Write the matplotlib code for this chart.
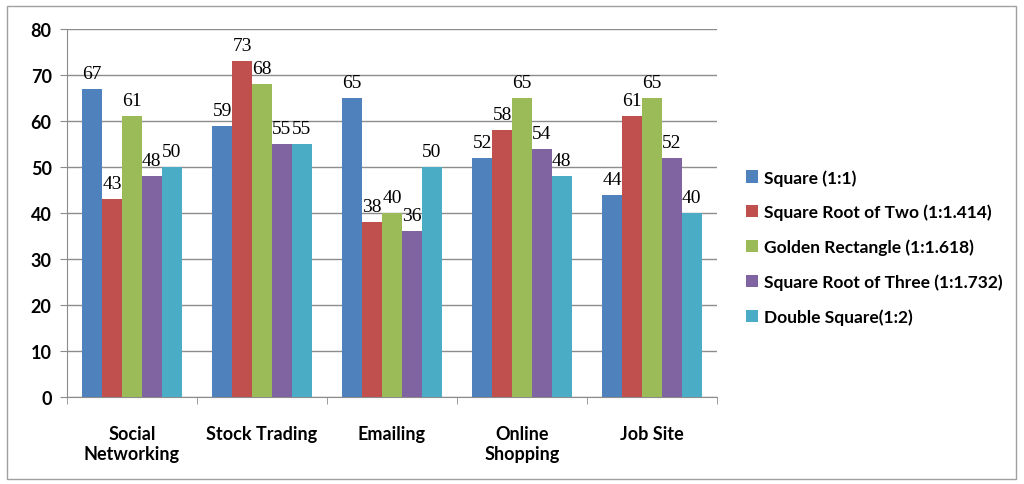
import numpy as np
import matplotlib.pyplot as plt
from matplotlib.patches import Rectangle

categories = ["Social\nNetworking", "Stock Trading", "Emailing", "Online\nShopping", "Job Site"]
series_names = ["Square (1:1)", "Square Root of Two (1:1.414)", "Golden Rectangle (1:1.618)",
                "Square Root of Three (1:1.732)", "Double Square(1:2)"]
square = [67, 59, 65, 52, 44]
root_two = [43, 73, 38, 58, 61]
golden = [61, 68, 40, 65, 65]
root_three = [48, 55, 36, 54, 52]
double_square = [50, 55, 50, 48, 40]
yticks = [0, 10, 20, 30, 40, 50, 60, 70, 80]

COLORS = ["#4F81BD", "#C0504D", "#9BBB59", "#8064A2", "#4BACC6"]
GRID = "#8C8C8C"

fig = plt.figure(figsize=(10.24, 4.85), dpi=100)
ax = fig.add_axes([0.0654, 0.1794, 0.6348, 0.7588])

# outer chart frame
fig.patches.append(Rectangle((0.007, 0.01), 0.985, 0.975, transform=fig.transFigure,
                             fill=False, edgecolor="#A0A0A0", lw=1.0))

series = [square, root_two, golden, root_three, double_square]
n = len(series)
x = np.arange(len(categories))
bw = 1.0 / (n + 1.55)

for i, (vals, name, col) in enumerate(zip(series, series_names, COLORS)):
    pos = x + (i - (n - 1) / 2) * bw
    bars = ax.bar(pos, vals, width=bw, color=col, label=name, zorder=3)
    for b, v in zip(bars, vals):
        ax.annotate(f"{v}", (b.get_x() + b.get_width() / 2, v), xytext=(0, 5),
                    textcoords="offset points", ha="center", va="bottom",
                    fontsize=14, family="Liberation Serif", color="black")

ax.set_xlim(-0.5, len(categories) - 0.5)
ax.set_ylim(0, 80)
ax.set_yticks(yticks)
ax.set_yticklabels([str(t) for t in yticks], fontsize=13, fontweight="bold",
                   family="Lato")
ax.yaxis.grid(True, color=GRID, lw=1.0, zorder=0)
ax.set_axisbelow(True)

# category labels in the centre, tick marks on the boundaries
ax.set_xticks(x)
ax.set_xticklabels(categories, fontsize=13, fontweight="bold", family="Lato",
                   linespacing=1.25)
ax.tick_params(axis="x", length=0, pad=20)
ax.set_xticks(np.arange(len(categories) + 1) - 0.5, minor=True)
ax.tick_params(axis="x", which="minor", length=5, color=GRID, direction="out")
ax.tick_params(axis="y", length=5, color=GRID, direction="out", pad=6)

for s in ["top", "right"]:
    ax.spines[s].set_visible(False)
for s in ["left", "bottom"]:
    ax.spines[s].set_color(GRID)

leg = fig.legend(loc="center left", bbox_to_anchor=(0.713, 0.489), frameon=False,
                 handlelength=0.7, handleheight=0.7, handletextpad=0.35,
                 labelspacing=1.05, prop={"family": "Lato", "weight": "bold", "size": 12.5})

fig.savefig("out.png", dpi=100)
